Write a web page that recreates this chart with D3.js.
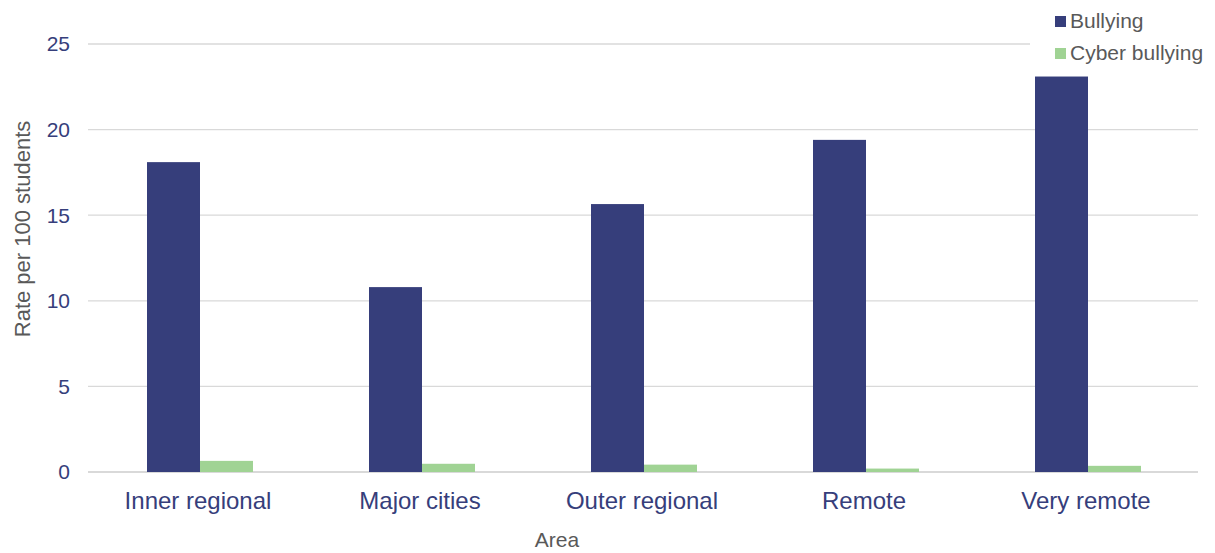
<!DOCTYPE html>
<html><head><meta charset="utf-8">
<script src="https://cdn.jsdelivr.net/npm/d3@7"></script>
<style>body{margin:0;background:#fff;} text{font-family:"Liberation Sans",Arial,sans-serif;}</style>
</head><body>
<svg id="c" width="1215" height="553"></svg>
<script>
const categories = ["Inner regional","Major cities","Outer regional","Remote","Very remote"];
const seriesNames = ["Bullying","Cyber bullying"];
const bullying = [18.1, 10.8, 15.65, 19.4, 23.1];
const cyberBullying = [0.65, 0.48, 0.43, 0.2, 0.36];
const yTicks = [0,5,10,15,20,25];
const colors = ["#363E7B","#A0D394"];

const svg = d3.select("#c");
const m = {l:88, r:17, t:44, b:81};
const W = 1215, H = 553;
const x = d3.scaleBand().domain(categories).range([m.l+1, W-m.r+1]).paddingInner(0).paddingOuter(0);
const x1 = d3.scaleBand().domain(seriesNames).range([0, 106]);
const y = d3.scaleLinear().domain([0,25]).range([H-m.b, m.t]);

// gridlines
svg.append("g").selectAll("line").data(yTicks).join("line")
  .attr("x1", m.l).attr("x2", W-m.r)
  .attr("y1", d=>y(d)).attr("y2", d=>y(d))
  .attr("stroke", "#D9D9D9").attr("stroke-width", d=>d===0?2:1.3);

// y tick labels
svg.append("g").selectAll("text").data(yTicks).join("text")
  .attr("x", 70).attr("y", d=>y(d)).attr("dy","0.35em")
  .attr("text-anchor","end").attr("font-size", 21).attr("fill","#363E7B")
  .text(d=>d);

const data = [bullying, cyberBullying];
const groups = svg.append("g").selectAll("g").data(categories).join("g")
  .attr("transform", c=>`translate(${x(c)+x.bandwidth()/2-53},0)`);
groups.selectAll("rect").data((c,i)=>seriesNames.map((s,j)=>({s, v:data[j][i], j}))).join("rect")
  .attr("x", d=>x1(d.s)).attr("width", x1.bandwidth())
  .attr("y", d=>y(d.v)).attr("height", d=>y(0)-y(d.v))
  .attr("fill", d=>colors[d.j]);

// category labels
svg.append("g").selectAll("text").data(categories).join("text")
  .attr("x", c=>x(c)+x.bandwidth()/2-2).attr("y", 509)
  .attr("text-anchor","middle").attr("font-size", 24).attr("fill","#363E7B")
  .text(c=>c);

// axis titles
svg.append("text").attr("x", 557).attr("y", 547).attr("text-anchor","middle")
  .attr("font-size",21).attr("fill","#595959").text("Area");
svg.append("text").attr("transform","translate(30,229) rotate(-90)").attr("text-anchor","middle")
  .attr("font-size",22).attr("fill","#595959").text("Rate per 100 students");

// legend
const lg = svg.append("g");
lg.append("rect").attr("x",1030).attr("y",4).attr("width",185).attr("height",64).attr("fill","#fff");
seriesNames.forEach((s,i)=>{
  const yy = 21 + i*32;
  lg.append("rect").attr("x",1055).attr("y",yy-5).attr("width",11).attr("height",11).attr("fill",colors[i]);
  lg.append("text").attr("x",1070).attr("y",yy).attr("dy","0.35em").attr("font-size",21).attr("fill","#595959").text(s);
});
</script>
</body></html>
